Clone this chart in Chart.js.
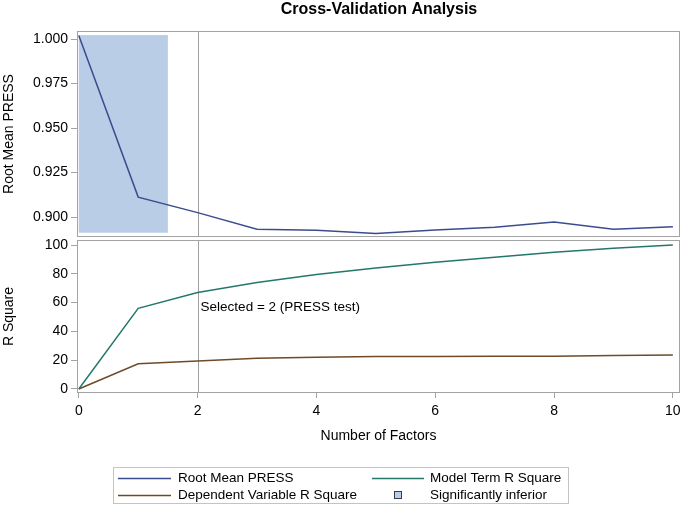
<!DOCTYPE html>
<html>
<head>
<meta charset="utf-8">
<script src="https://cdn.jsdelivr.net/npm/chart.js@4.4.0/dist/chart.umd.min.js"></script>
<style>
  html, body { margin: 0; padding: 0; background: #fff; }
  #wrap { position: relative; width: 683px; height: 509px; }
  #wrap canvas { position: absolute; left: 0; top: 0; }
</style>
</head>
<body>
<div id="wrap">
  <canvas id="top" width="683" height="509"></canvas>
  <canvas id="bot" width="683" height="509"></canvas>
</div>
<script>
// ---- data ----
const chartTitle = "Cross-Validation Analysis";
const factors = [0, 1, 2, 3, 4, 5, 6, 7, 8, 9, 10];
const rootMeanPress = [1.002, 0.9112, 0.9025, 0.8931, 0.8926, 0.8908, 0.8928, 0.8943, 0.8972, 0.8931, 0.8945];
const modelTermR2 = [0, 56, 67, 74, 79.5, 84, 88, 91.5, 95, 97.8, 100];
const dependentR2 = [0, 17.5, 19.5, 21.3, 22, 22.5, 22.6, 22.7, 22.8, 23.3, 23.6];
const pressTicks = [0.900, 0.925, 0.950, 0.975, 1.000];
const r2Ticks = [0, 20, 40, 60, 80, 100];
const xTicks = [0, 2, 4, 6, 8, 10];
const selectedFactors = 2;
const selectedLabel = "Selected = 2 (PRESS test)";
const inferiorX = [0, 1.5];
const inferiorY = [0.8912, 1.0022];
const legendItems = ["Root Mean PRESS", "Model Term R Square", "Dependent Variable R Square", "Significantly inferior"];

const C_PRESS = '#3b4b8e';
const C_MODEL = '#23786a';
const C_DEP = '#6e4a2a';
const C_SHADE = '#b9cde6';
const C_FRAME = '#a3a3a3';
const FONT = "'Liberation Sans', Arial, sans-serif";

function pts(ys) { return factors.map((f, i) => ({ x: f, y: ys[i] })); }

const frameAndRef = {
  id: 'frameAndRef',
  beforeDatasetsDraw(chart) {
    const { ctx, chartArea: a, scales } = chart;
    ctx.save();
    if (chart.canvas.id === 'top') {
      const x0 = scales.x.getPixelForValue(inferiorX[0]);
      const x1 = scales.x.getPixelForValue(inferiorX[1]);
      const y0 = scales.y.getPixelForValue(inferiorY[1]);
      const y1 = scales.y.getPixelForValue(inferiorY[0]);
      ctx.fillStyle = C_SHADE;
      ctx.fillRect(x0, y0, x1 - x0, y1 - y0);
    }
    const xs = Math.round(scales.x.getPixelForValue(selectedFactors)) + 0.5;
    ctx.strokeStyle = '#a0a0a0';
    ctx.lineWidth = 1;
    ctx.beginPath();
    ctx.moveTo(xs, a.top);
    ctx.lineTo(xs, a.bottom);
    ctx.stroke();
    ctx.restore();
  },
  afterDraw(chart) {
    const { ctx, chartArea: a, scales } = chart;
    ctx.save();
    ctx.strokeStyle = C_FRAME;
    ctx.lineWidth = 1;
    ctx.strokeRect(Math.round(a.left) + 0.5, Math.round(a.top) + 0.5,
      Math.round(a.right - a.left) - 1, Math.round(a.bottom - a.top) - 1);
    ctx.fillStyle = '#000';
    if (chart.canvas.id === 'top') {
      ctx.font = "bold 16px " + FONT;
      ctx.textAlign = 'center';
      ctx.textBaseline = 'middle';
      ctx.fillText(chartTitle, 379, 10);
    } else {
      ctx.font = "13.5px " + FONT;
      ctx.textAlign = 'left';
      ctx.textBaseline = 'middle';
      ctx.fillText(selectedLabel, scales.x.getPixelForValue(selectedFactors) + 3, scales.y.getPixelForValue(57));
      // legend
      ctx.strokeStyle = '#c4c4c4';
      ctx.strokeRect(113.5, 467.5, 455, 36);
      const r1 = 478.5, r2 = 495.5;
      ctx.lineWidth = 1.5;
      [[C_PRESS, 118, 171, r1], [C_DEP, 118, 171, r2], [C_MODEL, 372, 424, r1]].forEach(([c, xa, xb, y]) => {
        ctx.strokeStyle = c;
        ctx.beginPath(); ctx.moveTo(xa, y); ctx.lineTo(xb, y); ctx.stroke();
      });
      ctx.fillStyle = C_SHADE;
      ctx.fillRect(394, 491, 8, 8);
      ctx.strokeStyle = '#3a3a4a';
      ctx.lineWidth = 1;
      ctx.strokeRect(394.5, 491.5, 7, 7);
      ctx.fillStyle = '#000';
      ctx.font = "13.5px " + FONT;
      ctx.fillText(legendItems[0], 178, r1);
      ctx.fillText(legendItems[1], 430, r1);
      ctx.fillText(legendItems[2], 178, r2);
      ctx.fillText(legendItems[3], 430, r2);
    }
    ctx.restore();
  }
};

function yAxis(min, max, ticks, title, fmt) {
  return {
    type: 'linear', min, max,
    afterBuildTicks: ax => { ax.ticks = ticks.map(v => ({ value: v })); },
    afterFit: ax => { ax.width = 77; ax.paddingTop = 0; ax.paddingBottom = 0; },
    grid: { drawOnChartArea: false, drawTicks: true, tickLength: 6, color: C_FRAME },
    border: { display: false },
    ticks: { color: '#000', font: { family: FONT, size: 14 }, padding: 3, callback: fmt },
    title: { display: true, text: title, color: '#000', font: { family: FONT, size: 14 }, padding: { top: 1, bottom: 0 } }
  };
}

const common = {
  responsive: false,
  animation: false,
  plugins: { legend: { display: false }, tooltip: { enabled: false } },
  elements: { point: { radius: 0 }, line: { tension: 0, borderWidth: 1.5 } }
};

new Chart(document.getElementById('top'), {
  type: 'line',
  data: { datasets: [{ label: legendItems[0], data: pts(rootMeanPress), borderColor: C_PRESS }] },
  options: Object.assign({}, common, {
    layout: { padding: { left: 0, top: 31, right: 3, bottom: 272 } },
    scales: {
      x: { type: 'linear', min: -0.03, max: 10.12, display: false },
      y: yAxis(0.8888, 1.0045, pressTicks, 'Root Mean PRESS', v => v.toFixed(3))
    }
  }),
  plugins: [frameAndRef]
});

new Chart(document.getElementById('bot'), {
  type: 'line',
  data: {
    datasets: [
      { label: legendItems[1], data: pts(modelTermR2), borderColor: C_MODEL },
      { label: legendItems[2], data: pts(dependentR2), borderColor: C_DEP }
    ]
  },
  options: Object.assign({}, common, {
    layout: { padding: { left: 0, top: 240, right: 3, bottom: 64 } },
    scales: {
      x: {
        type: 'linear', min: -0.03, max: 10.12,
        afterBuildTicks: ax => { ax.ticks = xTicks.map(v => ({ value: v })); },
        afterFit: ax => { ax.height = 52; ax.paddingLeft = 0; ax.paddingRight = 0; },
        grid: { drawOnChartArea: false, drawTicks: true, tickLength: 5, color: C_FRAME },
        border: { display: false },
        ticks: { color: '#000', font: { family: FONT, size: 14 }, padding: 5, maxRotation: 0 },
        title: { display: true, text: 'Number of Factors', color: '#000', font: { family: FONT, size: 14 }, padding: { top: 0, bottom: 0 } }
      },
      y: yAxis(-2.8, 103.5, r2Ticks, 'R Square', v => String(v))
    }
  }),
  plugins: [frameAndRef]
});
</script>
</body>
</html>
